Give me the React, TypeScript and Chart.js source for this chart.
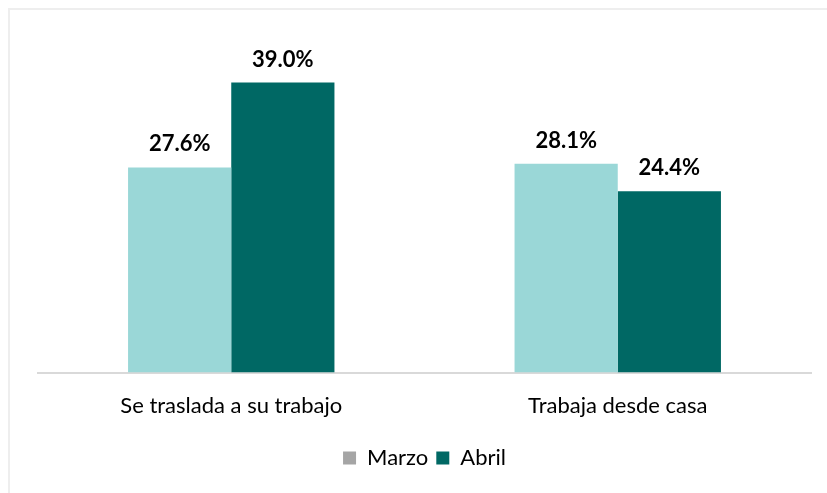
import React, { useEffect, useRef } from "react";
import { Chart, registerables } from "chart.js";

Chart.register(...registerables);

const categories = ["Se traslada a su trabajo", "Trabaja desde casa"];
const marzo = [27.6, 28.1];
const abril = [39.0, 24.4];
const seriesNames = ["Marzo", "Abril"];

const FONT = "Lato, 'Open Sans', sans-serif";

const labelPlugin = {
  id: "barLabels",
  afterDatasetsDraw(chart: any) {
    const ctx = chart.ctx;
    ctx.save();
    ctx.font = `bold 22px ${FONT}`;
    ctx.fillStyle = "#000000";
    ctx.textAlign = "center";
    ctx.textBaseline = "bottom";
    chart.data.datasets.forEach((ds: any, i: number) => {
      const meta = chart.getDatasetMeta(i);
      meta.data.forEach((bar: any, j: number) => {
        ctx.fillText(ds.data[j].toFixed(1) + "%", bar.x, bar.y - 12);
      });
    });
    ctx.restore();
  },
};

export default function App() {
  const ref = useRef<HTMLCanvasElement>(null);
  useEffect(() => {
    if (!ref.current) return;
    const chart = new Chart(ref.current, {
      type: "bar",
      data: {
        labels: categories,
        datasets: [
          { label: seriesNames[0], data: marzo, backgroundColor: "#9AD7D7" },
          { label: seriesNames[1], data: abril, backgroundColor: "#006864" },
        ],
      },
      options: {
        animation: false,
        responsive: false,
        maintainAspectRatio: false,
        layout: { padding: { left: 38, right: 16, top: 38, bottom: 14 } },
        datasets: { bar: { categoryPercentage: 0.534, barPercentage: 1 } },
        scales: {
          x: {
            grid: { display: false, drawTicks: false },
            border: { color: "#D9D9D9", width: 2 },
            ticks: { color: "#000000", font: { family: FONT, size: 22 }, padding: 20 },
          },
          y: { display: false, min: 0, max: 45 },
        },
        plugins: {
          legend: {
            position: "bottom",
            labels: {
              color: "#595959",
              font: { family: FONT, size: 22 },
              boxWidth: 13,
              boxHeight: 13,
              padding: 8,
              generateLabels: () => [
                { text: "Marzo", fillStyle: "#A5A5A5", strokeStyle: "#A5A5A5", lineWidth: 0, datasetIndex: 0 },
                { text: "Abril", fillStyle: "#006864", strokeStyle: "#006864", lineWidth: 0, datasetIndex: 1 },
              ],
            },
          },
          tooltip: { enabled: false },
        },
      },
      plugins: [labelPlugin],
    });
    return () => chart.destroy();
  }, []);
  return (
    <div style={{ position: "fixed", left: 0, top: 0, width: 827, height: 493, overflow: "hidden", background: "#fff" }}>
      <div style={{ position: "absolute", left: 8, top: 8, width: 900, height: 600, border: "2px solid #EEEEEE" }} />
      <canvas ref={ref} width={827} height={493} style={{ position: "absolute", left: 0, top: 0 }} />
    </div>
  );
}
